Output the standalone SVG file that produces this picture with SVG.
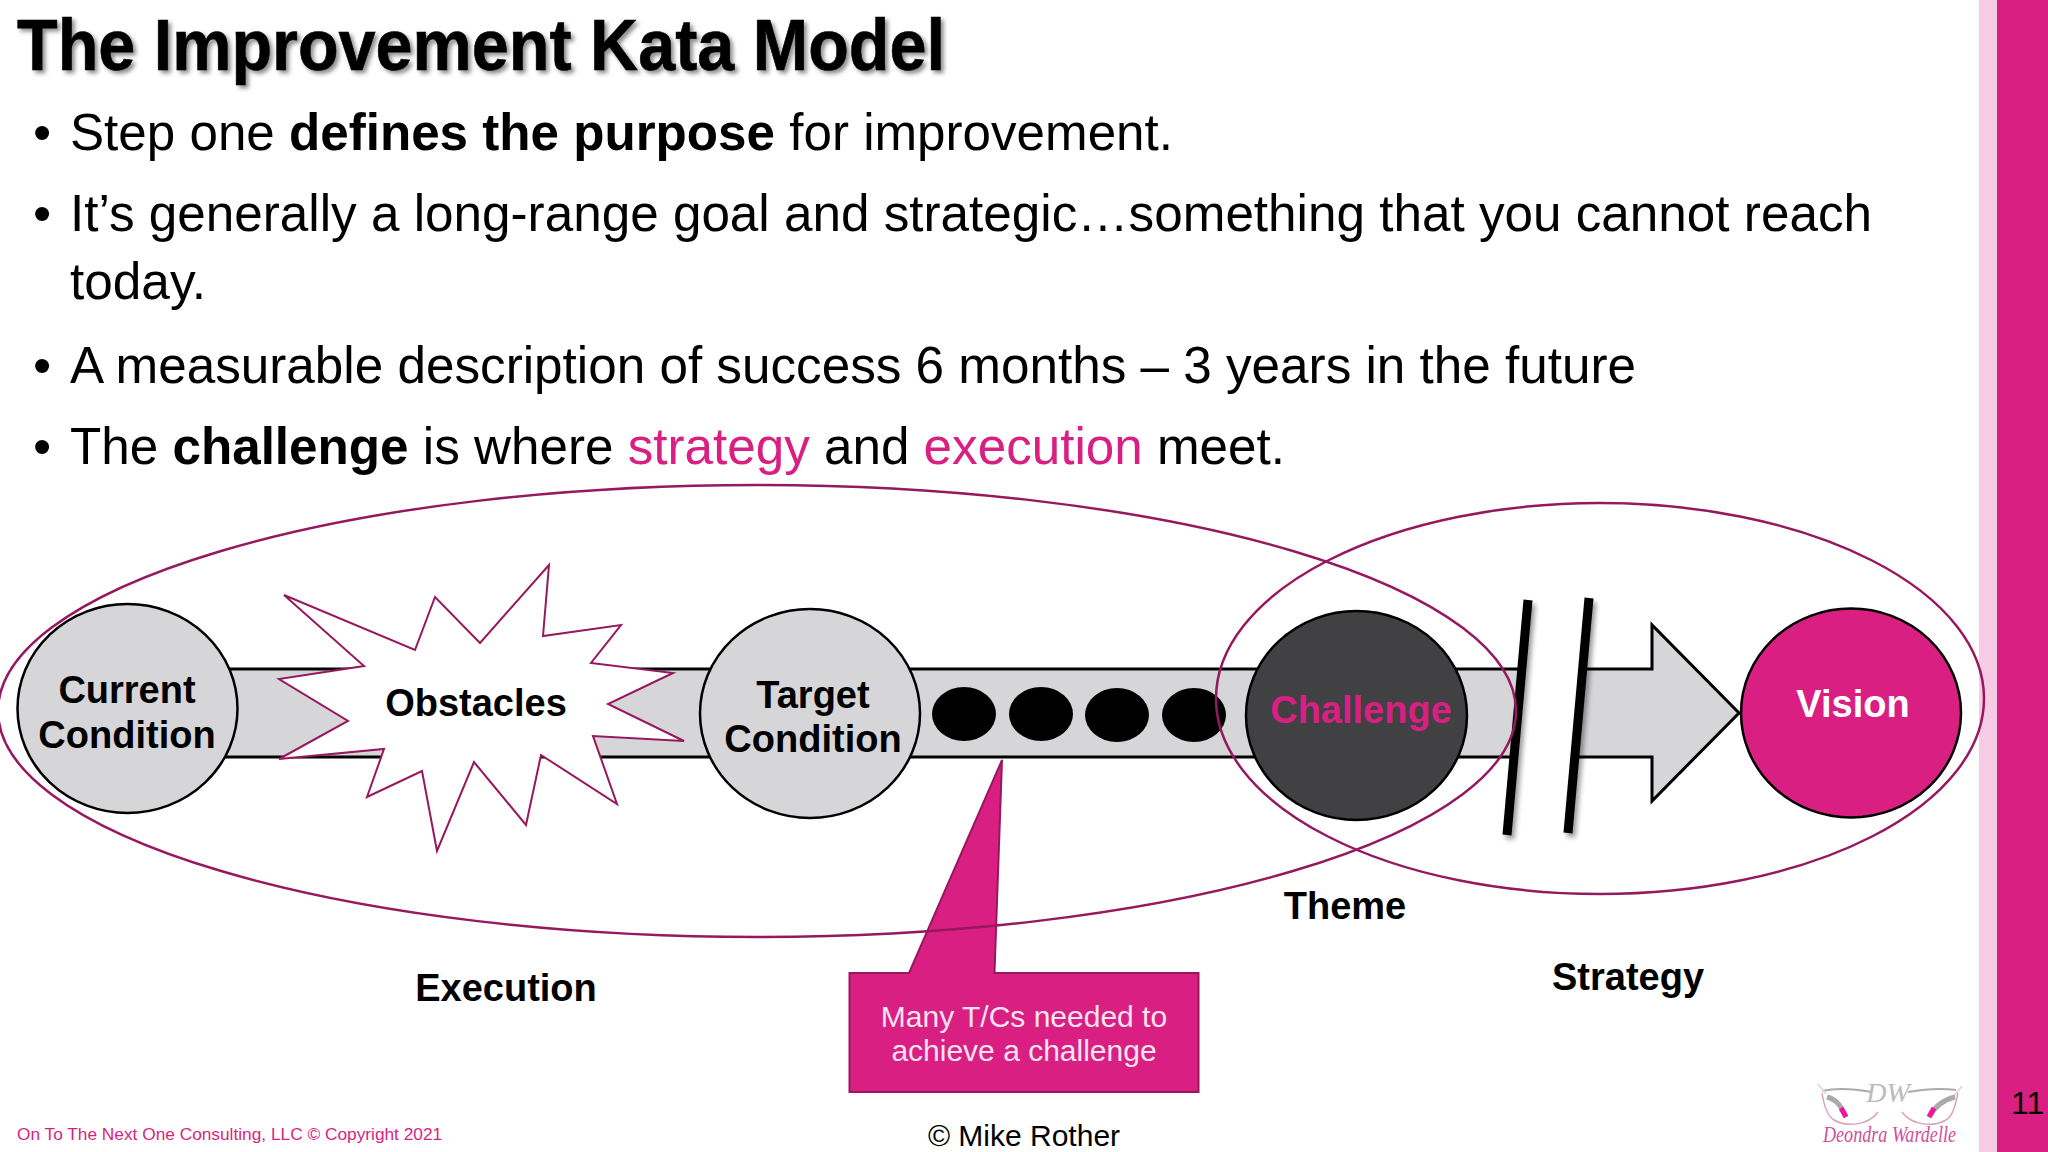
<svg xmlns="http://www.w3.org/2000/svg" width="2048" height="1152" viewBox="0 0 2048 1152">
<defs>
<style>
text{font-family:"Liberation Sans",Arial,sans-serif;fill:#000}
.body{font-size:52px}
.b{font-weight:700}
.p{fill:#d91f82}
.lab{font-size:38px;font-weight:700;text-anchor:middle}
.node{stroke:#000;stroke-width:2.500}
.gray{fill:#d6d6d8}
.ring{fill:none;stroke:#96185f;stroke-width:2.500}
.call{font-size:30px;text-anchor:middle;fill:#fbe3f0}
</style>
<filter id="ts" x="-5%" y="-20%" width="110%" height="140%"><feDropShadow dx="3" dy="3" stdDeviation="2" flood-color="#000" flood-opacity=".45"/></filter>
<filter id="ls" x="-50%" y="-5%" width="200%" height="110%"><feDropShadow dx="3" dy="4" stdDeviation="2.500" flood-color="#000" flood-opacity=".4"/></filter>
</defs>
<rect width="2048" height="1152" fill="#fff"/>
<g id="sidebar"><rect x="1979" width="18" height="1152" fill="#f7cbe3"/><rect x="1997" width="51" height="1152" fill="#d91f82"/><text x="2011" y="1114" font-size="32">11</text></g>
<g id="slide-text">
<text x="17" y="70" font-size="72" font-weight="700" stroke="#000" stroke-width=".6" textLength="928" lengthAdjust="spacingAndGlyphs" filter="url(#ts)">The Improvement Kata Model</text>
<text x="33" y="150" class="body">•</text><text x="70" y="150" class="body" textLength="1103" lengthAdjust="spacingAndGlyphs">Step one <tspan class="b">defines the purpose</tspan> for improvement.</text>
<text x="33" y="231" class="body">•</text><text x="70" y="231" class="body" textLength="1802" lengthAdjust="spacingAndGlyphs">It’s generally a long-range goal and strategic…something that you cannot reach</text>
<text x="70" y="299" class="body" textLength="136" lengthAdjust="spacingAndGlyphs">today.</text>
<text x="33" y="383" class="body">•</text><text x="70" y="383" class="body" textLength="1566" lengthAdjust="spacingAndGlyphs">A measurable description of success 6 months – 3 years in the future</text>
<text x="33" y="464" class="body">•</text><text x="70" y="464" class="body" textLength="1215" lengthAdjust="spacingAndGlyphs">The <tspan class="b">challenge</tspan> is where <tspan class="p">strategy</tspan> and <tspan class="p">execution</tspan> meet.</text>
</g>
<g id="connectors">
<path id="band" class="gray" stroke="#000" stroke-width="3" d="M200 669H1652V625L1739 713L1652 801V757H200Z"/>
<path id="gap" fill="#fff" d="M1528 590L1589 590L1568 840L1507 840Z"/>
<path id="slash-1" d="M1528 600L1507 835" stroke="#000" stroke-width="9" fill="none" filter="url(#ls)"/>
<path id="slash-2" d="M1589 598L1568 833" stroke="#000" stroke-width="9" fill="none" filter="url(#ls)"/>
</g>
<g id="current-condition"><ellipse class="node gray" cx="127.500" cy="708.500" rx="110" ry="104.500"/><text class="lab" x="127" y="703">Current</text><text class="lab" x="127" y="748">Condition</text></g>
<g id="obstacles"><polygon fill="#fff" stroke="#96185f" stroke-width="2" points="284,595 415,650 435,597 480,643 549,565 543,636 621,625 591,663 673,673 608,704 684,741 593,736 617,804 541,755 526,825 474,762 437,851 422,771 367,797 384,749 279,759 348,721 279,679 364,666"/><text class="lab" x="476" y="716">Obstacles</text></g>
<g id="target-condition"><ellipse class="node gray" cx="810" cy="713.500" rx="110" ry="104.500"/><text class="lab" x="813" y="708">Target</text><text class="lab" x="813" y="752">Condition</text></g>
<g id="dots"><ellipse cx="964" cy="714" rx="32" ry="27"/><ellipse cx="1041" cy="714" rx="32" ry="27"/><ellipse cx="1117" cy="715" rx="32" ry="27"/><ellipse cx="1194" cy="715" rx="32" ry="27"/></g>
<g id="challenge"><ellipse class="node" fill="#414042" cx="1356.500" cy="715.500" rx="110.500" ry="104.500"/><text class="lab p" x="1361" y="723">Challenge</text></g>
<g id="vision"><ellipse class="node" fill="#d91f82" cx="1851" cy="713" rx="110" ry="104.500"/><text class="lab" style="fill:#fff" x="1853" y="717">Vision</text></g>
<g id="callout"><path fill="#d91f82" stroke="#96185f" stroke-width="2" d="M849.500 973H909L1002 760L994.500 973H1198.500V1092H849.500Z"/><text class="call" x="1024" y="1027">Many T/Cs needed to</text><text class="call" x="1024" y="1061">achieve a challenge</text></g>
<g id="rings"><ellipse class="ring" cx="757" cy="711" rx="759" ry="226"/><ellipse class="ring" cx="1600" cy="698.500" rx="384" ry="195.500"/></g>
<g id="labels"><text class="lab" x="1345" y="919">Theme</text><text class="lab" x="506" y="1001">Execution</text><text class="lab" x="1628" y="990">Strategy</text></g>
<g id="footer"><text x="17" y="1140" font-size="17.300" class="p">On To The Next One Consulting, LLC © Copyright 2021</text><text x="1024" y="1146" font-size="30" text-anchor="middle">© Mike Rother</text></g>
<g id="logo" fill="none">
<path d="M1822 1091C1835 1088 1855 1089 1872 1092M1908 1092C1925 1089 1942 1088 1956 1090" stroke="#aaa" stroke-width="2"/>
<path d="M1818 1084L1826 1094M1962 1086L1954 1096" stroke="#ddd" stroke-width="2"/>
<path d="M1822 1093C1824 1106 1827 1116 1834 1120C1846 1127 1868 1126 1878 1112M1958 1093C1955 1106 1953 1116 1946 1120C1934 1127 1912 1126 1902 1112" stroke="#d9a0c0" stroke-width="1.500"/>
<path d="M1827 1097C1838 1100 1842 1108 1846 1117M1955 1097C1942 1100 1934 1108 1929 1117" stroke="#aaa" stroke-width="5"/>
<path d="M1841 1108L1846 1117M1934 1108L1929 1117" stroke="#f0159a" stroke-width="5"/>
<text x="1888" y="1102" font-size="28" font-style="italic" text-anchor="middle" style="font-family:'Liberation Serif',serif;fill:#bbb">DW</text>
<text x="1823" y="1142" font-size="24" font-style="italic" textLength="133" lengthAdjust="spacingAndGlyphs" style="font-family:'Liberation Serif',serif;fill:#cf4f9a">Deondra Wardelle</text>
</g>
</svg>
